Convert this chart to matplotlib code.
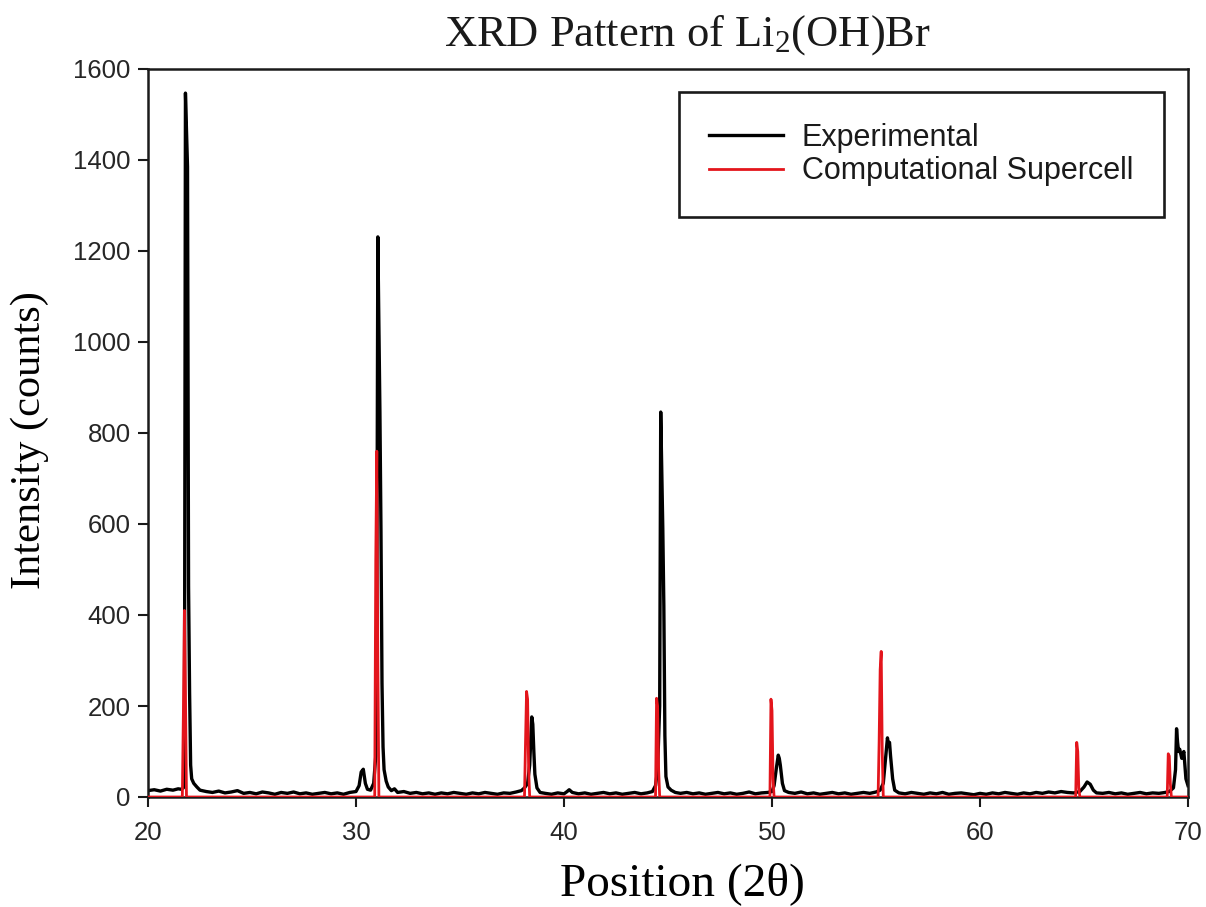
import matplotlib
matplotlib.use("Agg")
import matplotlib.pyplot as plt

plt.rcParams['mathtext.fontset'] = 'custom'
plt.rcParams['mathtext.rm'] = 'Liberation Serif'
plt.rcParams['mathtext.it'] = 'Liberation Serif:italic'

# Measured pattern (2-theta in degrees, intensity in counts)
exp_2theta = [
    20.0, 20.3, 20.6, 20.9, 21.2, 21.45, 21.6, 21.7, 21.75, 21.8,
    21.9, 21.95, 22.0, 22.05, 22.1, 22.2, 22.35, 22.5,
    22.8, 23.1, 23.4, 23.7, 24.0, 24.3, 24.6, 24.9, 25.2, 25.5,
    25.8, 26.1, 26.4, 26.7, 27.0, 27.3, 27.6, 27.9, 28.2, 28.5,
    28.8, 29.1, 29.4, 29.7, 30.0, 30.15, 30.25, 30.35, 30.45, 30.55,
    30.7, 30.85, 30.95, 31.0, 31.05, 31.15, 31.2, 31.25, 31.3,
    31.35, 31.45, 31.55, 31.7, 31.85, 32.0, 32.3, 32.6, 32.9, 33.2,
    33.5, 33.8, 34.1, 34.4, 34.7, 35.0, 35.3, 35.6, 35.9, 36.2,
    36.5, 36.8, 37.1, 37.4, 37.7, 37.95, 38.1, 38.25, 38.35, 38.45,
    38.5, 38.55, 38.6, 38.7, 38.85, 39.1, 39.4, 39.7, 40.0, 40.15,
    40.25, 40.4, 40.7, 41.0, 41.3, 41.6, 41.9, 42.2, 42.5, 42.8,
    43.1, 43.4, 43.7, 44.0, 44.25, 44.4, 44.5, 44.6, 44.65,
    44.75, 44.8, 44.85, 44.9, 45.0, 45.15, 45.35, 45.6, 45.9, 46.2,
    46.5, 46.8, 47.1, 47.4, 47.7, 48.0, 48.3, 48.6, 48.9, 49.2,
    49.5, 49.8, 50.0, 50.1, 50.2, 50.3, 50.35, 50.4, 50.5, 50.6,
    50.8, 51.1, 51.4, 51.7, 52.0, 52.3, 52.6, 52.9, 53.2, 53.5,
    53.8, 54.1, 54.4, 54.7, 55.0, 55.2, 55.35, 55.45, 55.55, 55.6,
    55.65, 55.7, 55.8, 55.9, 56.1, 56.4, 56.7, 57.0, 57.3, 57.6,
    57.9, 58.2, 58.5, 58.8, 59.1, 59.4, 59.7, 60.0, 60.3, 60.6,
    60.9, 61.2, 61.5, 61.8, 62.1, 62.4, 62.7, 63.0, 63.3, 63.6,
    63.9, 64.2, 64.5, 64.8, 65.0, 65.15, 65.3, 65.45, 65.6, 65.9,
    66.2, 66.5, 66.8, 67.1, 67.4, 67.7, 68.0, 68.3, 68.6, 68.9,
    69.1, 69.3, 69.4, 69.45, 69.5, 69.55, 69.6, 69.7, 69.8, 69.9,
    70.0,
]
exp_counts = [
    14, 16, 13, 17, 15, 18, 17, 20, 35, 1547,
    1385, 463, 228, 70, 40, 30, 22, 15,
    12, 10, 13, 9, 11, 14, 8, 10, 7, 11,
    9, 6, 10, 8, 11, 7, 9, 6, 8, 10,
    7, 9, 6, 10, 12, 25, 55, 61, 30, 17,
    15, 30, 90, 420, 1231, 846, 589, 250, 110,
    60, 35, 22, 14, 18, 10, 12, 8, 10, 7,
    9, 6, 9, 7, 10, 8, 6, 9, 7, 10,
    8, 6, 9, 8, 11, 14, 20, 30, 70, 176,
    160, 100, 50, 20, 10, 8, 6, 9, 7, 12,
    16, 10, 7, 9, 6, 8, 10, 7, 9, 6,
    8, 10, 7, 9, 12, 25, 60, 200, 846,
    590, 420, 135, 45, 22, 15, 10, 8, 10, 7,
    9, 6, 8, 10, 7, 9, 6, 8, 11, 7,
    9, 10, 12, 25, 60, 92, 85, 70, 30, 14,
    10, 8, 11, 7, 9, 6, 8, 10, 7, 9,
    6, 8, 10, 8, 11, 15, 30, 80, 130, 115,
    120, 90, 40, 15, 9, 7, 10, 8, 6, 9,
    7, 10, 6, 8, 9, 7, 5, 8, 6, 9,
    7, 10, 8, 6, 9, 7, 10, 8, 11, 9,
    12, 10, 9, 12, 22, 33, 28, 15, 9, 8,
    10, 7, 9, 6, 8, 10, 7, 9, 8, 10,
    12, 20, 60, 150, 120, 100, 105, 85, 100, 40,
    25,
]

# Simulated pattern of the supercell
sim_2theta = [
    20.0, 21.65, 21.7, 21.75, 21.8, 21.85,
    30.9, 30.95, 31.0, 31.05, 31.1,
    38.1, 38.15, 38.2, 38.25, 38.3, 38.35,
    44.4, 44.45, 44.5, 44.55, 44.6,
    49.9, 49.95, 50.0, 50.05, 50.1,
    55.1, 55.15, 55.2, 55.25, 55.3, 55.35,
    64.6, 64.65, 64.7, 64.75, 64.8,
    69.0, 69.05, 69.1, 69.15, 69.2,
    70.0,
]
sim_counts = [
    0, 0, 180, 410, 230, 0,
    0, 520, 760, 300, 0,
    0, 120, 232, 215, 60, 0,
    0, 217, 200, 60, 0,
    0, 215, 190, 40, 0,
    0, 120, 280, 320, 100, 0,
    0, 120, 100, 20, 0,
    0, 95, 90, 30, 0,
    0,
]

series_labels = ["Experimental", "Computational Supercell"]
x_ticks = [20, 30, 40, 50, 60, 70]
y_ticks = [0, 200, 400, 600, 800, 1000, 1200, 1400, 1600]

W, H = 1206, 907
fig = plt.figure(figsize=(W / 100, H / 100), dpi=100)
ax = fig.add_axes([148 / W, 1 - 797 / H, 1040 / W, 728 / H])

ax.plot(exp_2theta, exp_counts, color="black", lw=2.4, label=series_labels[0], zorder=2)
ax.plot(sim_2theta, sim_counts, color="#e3151c", lw=2.0, label=series_labels[1], zorder=3)

ax.set_xlim(20, 70)
ax.set_ylim(0, 1600)
ax.set_xticks(x_ticks)
ax.set_yticks(y_ticks)

for sp in ax.spines.values():
    sp.set_linewidth(1.8)
    sp.set_color("#1a1a1a")
ax.tick_params(direction="out", length=7.5, width=1.5, labelsize=18.5, color="#1a1a1a")
ax.tick_params(axis="x", pad=10)
ax.tick_params(axis="y", pad=5)
for lab in ax.get_xticklabels() + ax.get_yticklabels():
    lab.set_fontfamily("Liberation Sans")
    lab.set_color("#262626")

ax.set_xlabel("Position (2θ)", fontsize=34, family="Liberation Serif", va="baseline")
ax.xaxis.set_label_coords((682 - 148) / 1040, (797 - 895) / 728)
ax.set_ylabel("Intensity (counts)", fontsize=30.5, family="Liberation Serif", va="center")
ax.yaxis.set_label_coords((30 - 148) / 1040, (797 - 440) / 728)

fig.text(687.5 / W, 1 - 46 / H, r"XRD Pattern of Li$_2$(OH)Br", fontsize=32,
         family="Liberation Serif", ha="center", va="baseline", color="#1a1a1a")

leg = ax.legend(loc="upper right", bbox_to_anchor=(1163.5 / W, 1 - 92 / H),
                bbox_transform=fig.transFigure, fancybox=False, framealpha=1,
                edgecolor="#1a1a1a", prop={"family": "Liberation Sans", "size": 22},
                handlelength=2.4, handletextpad=0.62, labelspacing=0.12,
                borderpad=1.0, borderaxespad=0)
leg.get_frame().set_linewidth(1.9)
for t in leg.get_texts():
    t.set_color("#1a1a1a")

fig.savefig("out.png", dpi=100)
